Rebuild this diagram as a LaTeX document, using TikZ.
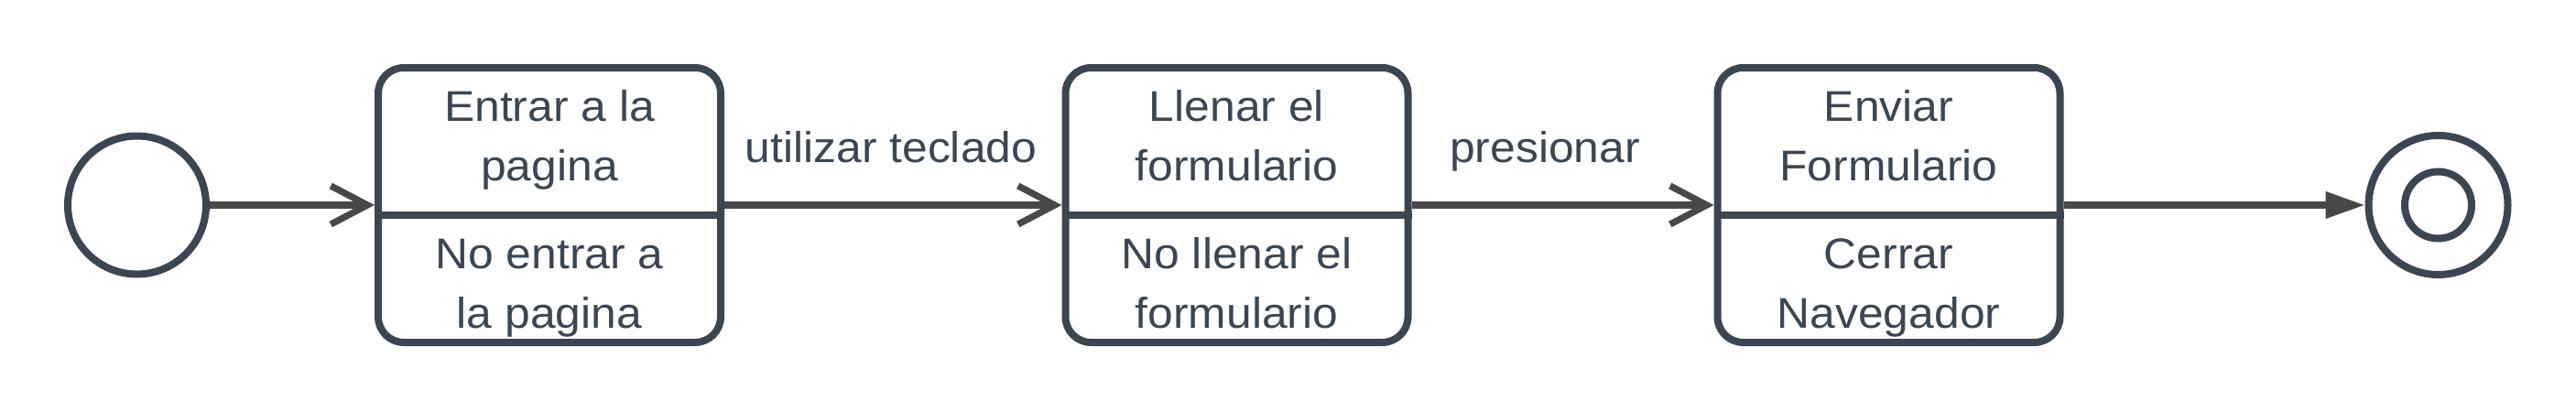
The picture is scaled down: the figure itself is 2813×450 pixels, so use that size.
\documentclass[tikz,border=0pt]{standalone}
\usepackage{fontspec}
\setmainfont{Liberation Sans}[FakeStretch=1.06]
\usepackage{xcolor}
\usetikzlibrary{arrows.meta}

\definecolor{borde}{HTML}{3B4652}
\definecolor{flecha}{HTML}{484848}

\begin{document}
\begin{tikzpicture}[x=0.5pt,y=-0.5pt,
		estado/.style={draw=borde,line width=4pt,rounded corners=14pt,fill=white,minimum width=187pt,minimum height=150pt,inner sep=0pt},
		inicial/.style={circle,draw=borde,line width=4pt,fill=white,inner sep=0pt},
		texto/.style={text=borde,font=\fontsize{23.5pt}{32.5pt}\selectfont,align=center,anchor=base,inner sep=0pt},
		division/.style={draw=borde,line width=4pt},
		transicion/.style={draw=flecha,line width=3.6pt},
		abierta/.style={-{Straight Barb[length=20pt,width=21pt]}},
		llena/.style={-{Triangle[length=21.5pt,width=14pt]}}]
			\useasboundingbox (0,0) rectangle (2813,450);

			% estados
			\node[inicial,minimum size=75.5pt] (inicio) at (149.5,224) {};
			\node[estado] (entrar) at (600,224) {};
			\node[estado] (llenar) at (1350.5,224) {};
			\node[estado] (enviar) at (2062.5,224) {};
			\node[inicial,minimum size=76pt] (fin) at (2662.5,224) {};
			\node[inicial,minimum size=36.5pt] (finint) at (fin) {};

			\draw[division] ([yshift=-5.5pt]entrar.west) -- ([yshift=-5.5pt]entrar.east);
			\draw[division] ([yshift=-5.5pt]llenar.west) -- ([yshift=-5.5pt]llenar.east);
			\draw[division] ([yshift=-5.5pt]enviar.west) -- ([yshift=-5.5pt]enviar.east);

			% textos (base = ultima linea)
			\node[texto] (entrar1) at (600,197) {Entrar a la\\pagina};
			\node[texto] (entrar2) at (600,358) {No entrar a\\la pagina};
			\node[texto] (llenar1) at (1350.5,197) {Llenar el\\formulario};
			\node[texto] (llenar2) at (1350.5,358) {No llenar el\\formulario};
			\node[texto] (enviar1) at (2062.5,197) {Enviar\\Formulario};
			\node[texto] (enviar2) at (2062.5,358) {Cerrar\\Navegador};

			% transiciones
			\draw[transicion,abierta] (inicio) -- (entrar);
			\draw[transicion,abierta] (entrar) -- (llenar);
			\draw[transicion,abierta] (llenar) -- (enviar);
			\draw[transicion,llena] (enviar) -- (fin);

			\node[texto] (teclado) at (973,177.5) {utilizar teclado};
			\node[texto] (presionar) at (1687,177.5) {presionar};
		\end{tikzpicture}
\end{document}
